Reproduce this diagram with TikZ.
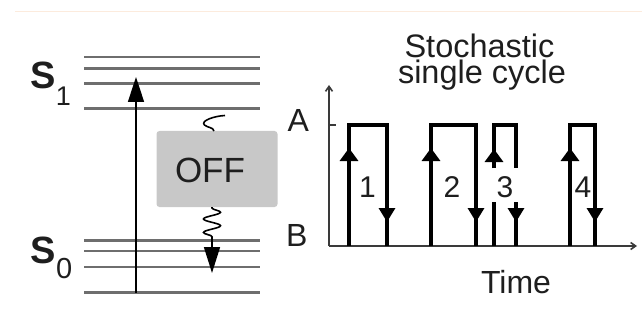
\documentclass[tikz,border=0pt]{standalone}
\usepackage{fontspec}
\setmainfont{Liberation Sans}
\usetikzlibrary{arrows.meta,decorations.pathmorphing}
\definecolor{lvl}{HTML}{6E6E6E}
\definecolor{boxgray}{HTML}{C8C8C8}
\definecolor{topline}{HTML}{FCEBDD}
\definecolor{txt}{HTML}{1E1E1E}
\definecolor{axisc}{HTML}{3A3A3A}
\tikzset{
  level/.style={draw=lvl, line width=2.6pt},
  excite/.style={draw=black, line width=1.6pt, -{Triangle[length=25pt,width=16pt]}},
  offbox/.style={fill=boxgray, rounded corners=3pt, minimum width=121pt, minimum height=76pt, inner sep=0pt},
  lbl/.style={text=txt, inner sep=0pt},
  axisline/.style={draw=axisc, line width=1.6pt},
  pulse/.style={draw=black, line width=3.2pt},
  uptip/.style={draw=black, line width=3.2pt, -{Triangle[length=13pt,width=18pt]}},
  dntip/.style={draw=black, line width=3.2pt, -{Triangle[length=14pt,width=16pt]}},
  wig/.style={draw=black, line width=1.6pt},
}
\begin{document}
\begin{tikzpicture}[x=1pt,y=-1pt]
\useasboundingbox (0,0) rectangle (642,326);
% top rule
\draw[topline, line width=1.6pt] (15,11.5) -- (642,11.5);

% energy levels
\foreach \yy in {57,68.5,83.5,108.5,240.5,251,267,292.5}
  \draw[level] (84,\yy) -- (260,\yy);

% labels S1, S0
\node[lbl, font=\fontsize{38}{38}\selectfont\bfseries] (s1) at (43.5,75.5) {S};
\node[lbl, font=\fontsize{27}{27}\selectfont] (s1sub) at (63.5,96.7) {1};
\node[lbl, font=\fontsize{38}{38}\selectfont\bfseries] (s0) at (43.5,250) {S};
\node[lbl, font=\fontsize{29}{29}\selectfont] (s0sub) at (64.3,268.3) {0};

% excitation arrow
\coordinate (exbot) at (136,292.5);
\coordinate (extop) at (136,77);
\draw[excite] (exbot) -- (extop);

% OFF box
\node[offbox] (off) at (217,169) {};
\node[lbl, font=\fontsize{35}{35}\selectfont] (offtxt) at (210,170.5) {OFF};

% wiggle into OFF state
\coordinate (w1s) at (225,115.5);
\coordinate (w1e) at (214,131);
\draw[wig] (w1s) .. controls (214,116) and (200,121) .. (204.5,125)
  .. controls (208,128) and (213,127) .. (w1e);

% wiggle out of OFF state
\coordinate (w2s) at (212,207);
\coordinate (w2e) at (212,241);
\draw[wig, decorate, decoration={snake, amplitude=8.5pt, segment length=13.5pt, pre length=1pt, post length=1pt}] (w2s) -- (w2e);
\coordinate (dtip) at (212,273);
\draw[wig, -{Triangle[length=26pt,width=16pt]}] (w2e) -- (dtip);

% A / B labels
\node[lbl, font=\fontsize{32}{32}\selectfont] (la) at (298.3,120) {A};
\node[lbl, font=\fontsize{32}{32}\selectfont] (lb) at (296.7,235.5) {B};

% title
\node[lbl, anchor=base, font=\fontsize{32.5}{32.5}\selectfont] (title1) at (479.5,57.5) {Stochastic};
\node[lbl, anchor=base, font=\fontsize{32.5}{32.5}\selectfont] (title2) at (482,84) {single cycle};

% axes
\coordinate (org) at (329,246);
\coordinate (ytop) at (329,85);
\coordinate (xend) at (637,246);
\draw[axisline, -{Straight Barb[length=5pt,width=7pt]}] (org) -- (ytop);
\draw[axisline, -{Straight Barb[length=5pt,width=7pt]}] (org) -- (xend);
\coordinate (tickA) at (329,125);
\draw[axisline] (tickA) -- ++(7,0);

\node[lbl, font=\fontsize{32}{32}\selectfont] (time) at (516,282) {Time};

% pulse 1
\draw[pulse] (349,246) -- (349,125) -- (387,125) -- (387,246);
\draw[uptip] (349,200) -- (349,148);
\draw[dntip] (387,190) -- (387,222);
\node[lbl, font=\fontsize{30}{30}\selectfont] (n1) at (367.5,187.5) {1};

% pulse 2
\draw[pulse] (431,246) -- (431,125) -- (476,125) -- (476,246);
\draw[uptip] (431,200) -- (431,148);
\draw[dntip] (476,190) -- (476,222);
\node[lbl, font=\fontsize{30}{30}\selectfont] (n2) at (452,187.5) {2};

% pulse 3 (broken around its label)
\draw[pulse] (494,246) -- (494,202);
\draw[pulse] (494,168) -- (494,125) -- (516,125) -- (516,168);
\draw[pulse] (516,202) -- (516,246);
\draw[uptip] (494,168) -- (494,149);
\draw[dntip] (516,202) -- (516,222);
\node[lbl, font=\fontsize{30}{30}\selectfont] (n3) at (505,187.5) {3};

% pulse 4
\draw[pulse] (570,246) -- (570,125) -- (595,125) -- (595,246);
\draw[uptip] (570,200) -- (570,148);
\draw[dntip] (595,190) -- (595,222);
\node[lbl, font=\fontsize{30}{30}\selectfont] (n4) at (583,187.5) {4};
\end{tikzpicture}
\end{document}
